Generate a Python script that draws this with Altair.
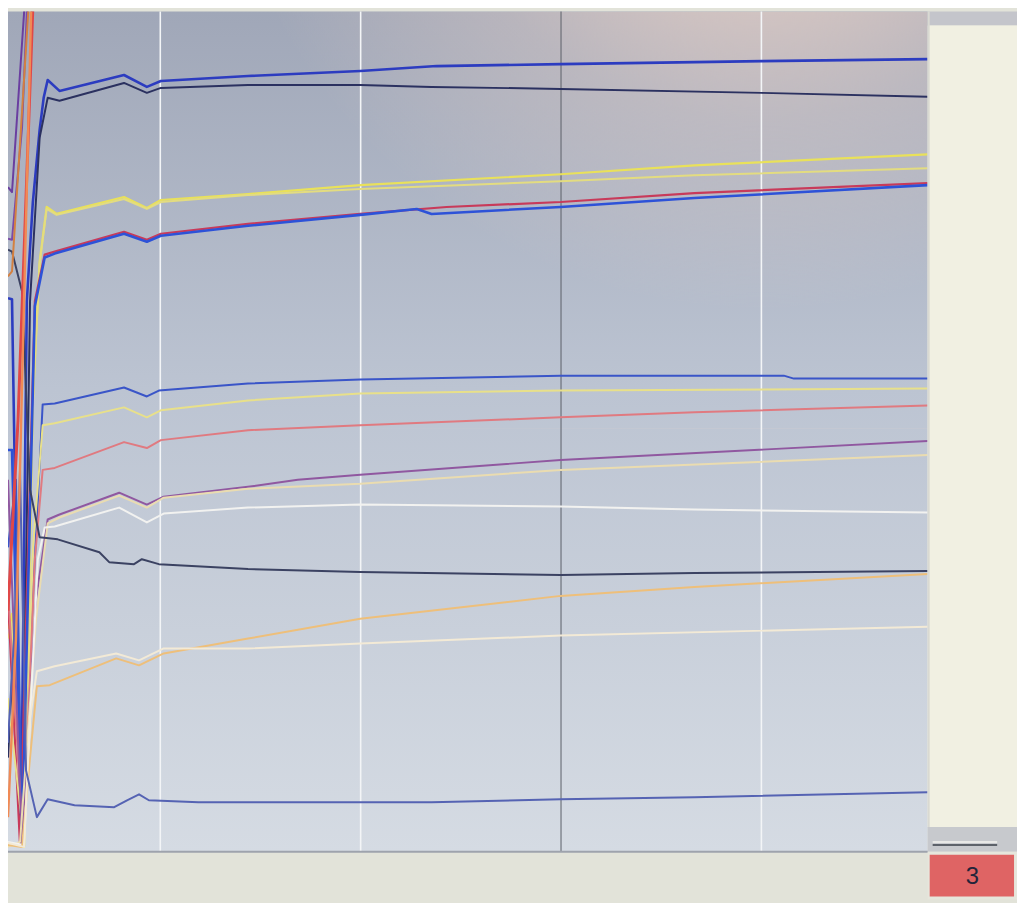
import altair as alt
import pandas as pd

# ---- series data (x: time units, y: reading units) ----
series_names = ["A", "B", "C", "D", "E", "F", "G", "H", "I", "J", "K", "L", "M", "N", "O", "P",
                "R1", "R2", "R3", "R4", "R5"]
series_colors = ["#2c3cc0", "#2b3160", "#e9e15a", "#e3dc80", "#c83a5a", "#2d52d8", "#3a55c8",
                 "#e8e08a", "#e07a80", "#9058a0", "#eadcb0", "#f2f2f0", "#3b4262", "#eebf7a",
                 "#f3ead6", "#5563b3", "#e04848", "#f08a55", "#6a3ea0", "#7a4aa8", "#d48040"]
series_widths = [2.6, 2.0, 2.2, 2.0, 2.2, 2.6, 2.0, 2.0, 2.0, 2.0, 2.0, 2.0, 2.0, 2.0, 2.0, 2.0,
                 3.0, 2.4, 2.0, 2.0, 2.0]

t_A = [24, 26, 30.4, 33.4, 36.4, 39.8, 41.8, 43.8, 49.7, 81.9, 93.3, 100.3, 143.8, 199.8, 237.9, 299.8, 400.3, 483]
v_A = [55.8, 55.7, 0.7, 55.5, 65.5, 72.8, 76, 77.8, 76.7, 78.3, 77.1, 77.7, 78.2, 78.7, 79.2, 79.4, 79.7, 79.9]

t_B = [24, 27, 31, 35, 39.8, 43.8, 49.7, 81.9, 93.3, 100.3, 143.8, 199.8, 235.4, 299.8, 400.3, 483]
v_B = [9.5, 21.5, 0.9, 55.5, 72, 76, 75.7, 77.5, 76.5, 77, 77.3, 77.3, 77.1, 76.9, 76.5, 76.1]

t_C = [24, 26, 32, 36.4, 39.8, 43.3, 48.3, 81.9, 93.3, 100.3, 143.8, 199.8, 299.8, 366.6, 483]
v_C = [22.5, 24, 0.5, 45.5, 59.5, 65, 64.3, 66, 64.9, 65.7, 66.3, 67.2, 68.3, 69.2, 70.3]

t_D = [24, 26, 32, 36.4, 39.8, 43.3, 48.3, 81.9, 93.3, 100.3, 143.8, 199.8, 299.8, 366.6, 483]
v_D = [21.5, 23, 0.5, 45, 59.3, 64.8, 64.2, 65.8, 64.8, 65.5, 66.2, 66.8, 67.6, 68.2, 68.9]

t_E = [24, 30, 37.4, 42.3, 47.3, 81.9, 93.3, 100.3, 143.8, 199.8, 242.9, 299.8, 366.6, 483]
v_E = [25.5, 0.7, 55.5, 60.2, 60.5, 62.5, 61.7, 62.3, 63.3, 64.3, 65, 65.5, 66.4, 67.4]

t_F = [24, 26, 31, 37.4, 42.3, 47.3, 81.9, 93.3, 100.3, 143.8, 199.8, 228, 235.4, 299.8, 366.6, 483]
v_F = [40.5, 40.5, 0.7, 55, 59.9, 60.3, 62.3, 61.5, 62.1, 63.1, 64.2, 64.8, 64.3, 65, 65.9, 67.2]

t_G = [24, 28, 31, 36.4, 41.3, 47.3, 81.9, 93.3, 99.3, 143.8, 199.8, 299.8, 411.2, 416.2, 483]
v_G = [30.7, 37.5, 0.9, 25.5, 45.1, 45.2, 46.8, 45.9, 46.5, 47.2, 47.6, 48, 48, 47.7, 47.7]

t_H = [24, 32, 36.4, 41.3, 47.3, 81.9, 93.3, 100.3, 143.8, 199.8, 299.8, 483]
v_H = [15.5, 1, 30.5, 43, 43.2, 44.8, 43.8, 44.5, 45.5, 46.2, 46.5, 46.7]

t_I = [24, 31.5, 37.4, 41.3, 47.3, 81.9, 93.3, 100.3, 143.8, 199.8, 299.8, 366.6, 483]
v_I = [26.5, 1, 29.5, 38.5, 38.7, 41.3, 40.7, 41.5, 42.5, 43, 43.8, 44.3, 45]

t_J = [24, 31, 38, 43.8, 49.7, 79.5, 93.3, 101.7, 143.8, 168.6, 199.8, 299.8, 483]
v_J = [37.5, 1, 25.5, 33.5, 34, 36.2, 35, 35.8, 36.8, 37.5, 38, 39.5, 41.4]

t_K = [24, 30, 38, 43.8, 49.7, 79.5, 93.3, 101.7, 143.8, 199.8, 299.8, 483]
v_K = [0.5, 1, 23.5, 33.1, 33.7, 35.9, 34.7, 35.7, 36.6, 37.1, 38.5, 40]

t_L = [24, 32, 38.9, 42.3, 47.3, 79.5, 93.3, 101.7, 143.8, 199.8, 299.8, 366.6, 483]
v_L = [1, 0.7, 29.5, 32.7, 32.8, 34.7, 33.2, 34.1, 34.7, 35, 34.8, 34.5, 34.2]

t_M = [24, 26, 31, 35, 39.8, 48.8, 69.6, 74.5, 86.9, 90.8, 99.3, 143.8, 199.8, 299.8, 366.6, 483]
v_M = [60.7, 60.5, 56.5, 36.5, 31.7, 31.5, 30.2, 29.2, 29, 29.5, 29, 28.5, 28.2, 27.9, 28.1, 28.3]

t_N = [24, 31, 35, 38.4, 44.8, 78, 89.4, 101.7, 143.8, 199.8, 299.8, 366.6, 483]
v_N = [0.7, 0.5, 9.5, 16.7, 16.8, 19.5, 18.8, 20, 21.5, 23.5, 25.8, 26.7, 28]

t_O = [24, 32, 35, 38.4, 47.3, 78, 89.4, 101.7, 143.8, 199.8, 299.8, 483]
v_O = [0.9, 0.5, 13.5, 18.2, 18.7, 20, 19.3, 20.5, 20.5, 21, 21.8, 22.7]

t_P = [24, 27, 30, 33, 38.4, 43.8, 57.2, 77, 83.4, 89.4, 94.3, 119, 235.4, 299.8, 366.6, 483]
v_P = [11, 21.5, 38.5, 8.2, 3.5, 5.3, 4.7, 4.5, 5.2, 5.8, 5.2, 5, 5, 5.3, 5.5, 6]

t_R1 = [24, 29, 37, 49.7]
v_R1 = [24.3, 43.5, 88.5, 105.5]
t_R2 = [24, 28, 32, 36]
v_R2 = [3.5, 21.5, 55.5, 88.5]
t_R3 = [24, 26, 33]
v_R3 = [67, 66.5, 87.5]
t_R4 = [24, 26, 31, 34]
v_R4 = [61.8, 61.7, 73, 87.5]
t_R5 = [24, 26, 35]
v_R5 = [58, 58.5, 87.5]

grid_t = [100, 200, 400]
cursor_t = [300]

all_t = [t_A, t_B, t_C, t_D, t_E, t_F, t_G, t_H, t_I, t_J, t_K, t_L, t_M, t_N, t_O, t_P,
         t_R1, t_R2, t_R3, t_R4, t_R5]
all_v = [v_A, v_B, v_C, v_D, v_E, v_F, v_G, v_H, v_I, v_J, v_K, v_L, v_M, v_N, v_O, v_P,
         v_R1, v_R2, v_R3, v_R4, v_R5]

rows = []
for name, w, ts, vs in zip(series_names, series_widths, all_t, all_v):
    for i, (t, v) in enumerate(zip(ts, vs)):
        rows.append({"series": name, "t": t, "v": v, "w": w, "i": i})
df = pd.DataFrame(rows)

W, H = 927, 847
xs = alt.Scale(domain=[24, 483], nice=False, zero=False)
ys = alt.Scale(domain=[0, 84.7], nice=False, zero=False)
one = pd.DataFrame({"a": [0]})

bg = alt.Chart(one).mark_rect(
    color=alt.LinearGradient(
        gradient="linear", x1=0, x2=0, y1=0, y2=1,
        stops=[alt.GradientStop(color="#a0a7b8", offset=0),
               alt.GradientStop(color="#bcc4d2", offset=0.45),
               alt.GradientStop(color="#d5dbe3", offset=1)])
).encode(x=alt.value(0), x2=alt.value(W), y=alt.value(0), y2=alt.value(H))

glare = alt.Chart(one).mark_rect(
    color=alt.RadialGradient(
        gradient="radial", x1=0.82, y1=0.0, x2=0.82, y2=0.0, r1=0, r2=0.6,
        stops=[alt.GradientStop(color="rgba(252,228,210,1)", offset=0),
               alt.GradientStop(color="rgba(246,218,202,0.8)", offset=0.3),
               alt.GradientStop(color="rgba(240,212,198,0.3)", offset=0.65),
               alt.GradientStop(color="rgba(240,212,198,0)", offset=1)])
).encode(x=alt.value(0), x2=alt.value(W), y=alt.value(0), y2=alt.value(420))

grid = alt.Chart(pd.DataFrame({"t": grid_t})).mark_rule(color="#f3f5f7", strokeWidth=1.6).encode(
    x=alt.X("t:Q", scale=xs, axis=None))
cursor = alt.Chart(pd.DataFrame({"t": cursor_t})).mark_rule(color="#5a5e68", strokeWidth=1).encode(
    x=alt.X("t:Q", scale=xs, axis=None))

lines = alt.Chart(df).mark_line(clip=True, strokeJoin="round").encode(
    x=alt.X("t:Q", scale=xs, axis=None),
    y=alt.Y("v:Q", scale=ys, axis=None),
    color=alt.Color("series:N", scale=alt.Scale(domain=series_names, range=series_colors), legend=None),
    strokeWidth=alt.StrokeWidth("w:Q", scale=None),
    order="i:Q",
)

def box(x1, x2, y1, y2, color, **kw):
    return alt.Chart(one).mark_rect(color=color, **kw).encode(
        x=alt.value(x1), x2=alt.value(x2), y=alt.value(y1), y2=alt.value(y2))

panel_top = box(W, 1017, 0, 14, "#c4c5cb")
panel = box(W, 1017, 14, 822, "#f1f0e2")
panel_edge = box(W, W + 2, 0, 822, "#d9d9d2")
slider_bg = box(W, 1017, 822, 847, "#c7c9cd")
slider_line = box(932, 997, 839, 841, "#5d626a")
slider_hi = box(932, 997, 836, 838, "#e8e8e6")
bottom = box(0, W, 847, 895, "#e2e3d9")
bottom_edge = box(0, W, 846, 848, "#9ea3ad")
corner = box(W, 1017, 847, 895, "#e6e6dc")
redbox = box(929, 1014, 850, 892, "#df6464")
label = alt.Chart(one).mark_text(fontSize=24, font="Liberation Sans", color="#23243a").encode(
    x=alt.value(972), y=alt.value(872), text=alt.value("3"))

chart = alt.layer(
    bg, glare, grid, cursor, lines,
    panel_top, panel, panel_edge, slider_bg, slider_hi, slider_line,
    bottom, bottom_edge, corner, redbox, label
).properties(
    width=W, height=H,
    autosize=alt.AutoSizeParams(type="none"),
    padding={"left": 0, "top": 0, "right": 90, "bottom": 48},
    background="#e2e3d9",
).configure_view(stroke=None)

chart.save("out.html", embed_options={"renderer": "svg", "actions": False})
